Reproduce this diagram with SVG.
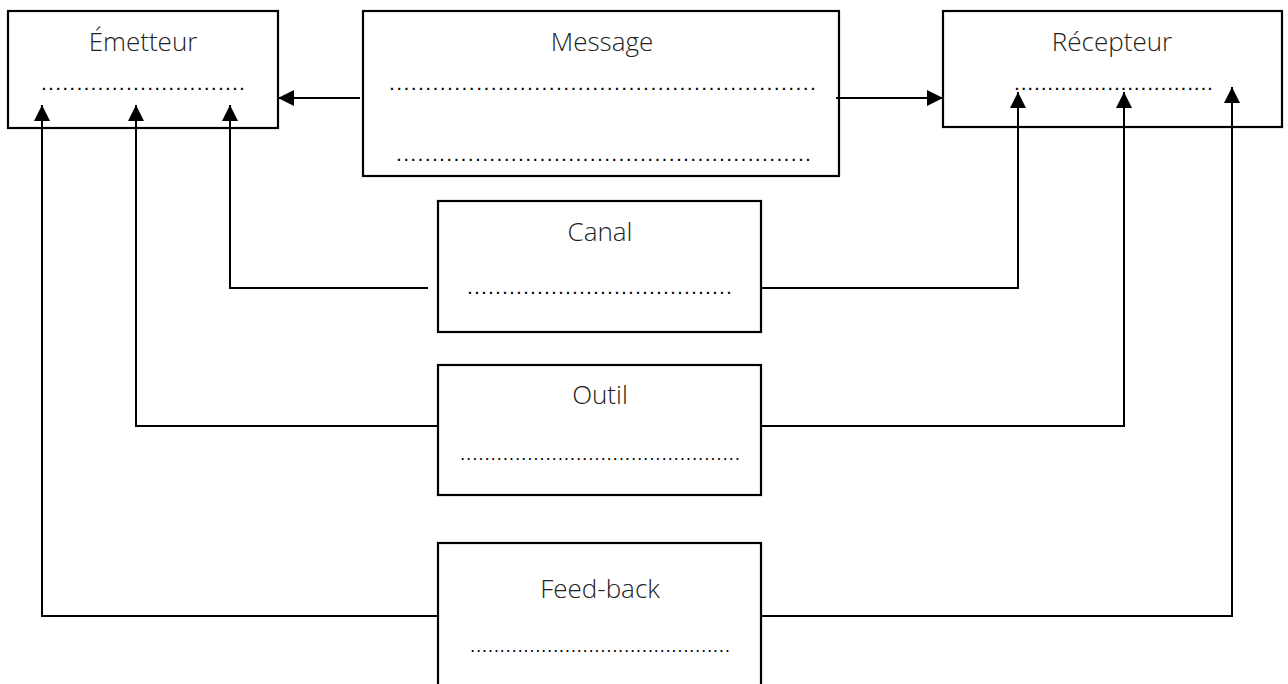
<svg xmlns="http://www.w3.org/2000/svg" width="1288" height="684" viewBox="0 0 1288 684">
<defs>
<marker id="ah" markerUnits="userSpaceOnUse" markerWidth="16" markerHeight="16" refX="16" refY="8" orient="auto" viewBox="0 0 16 16">
<path d="M0,0 L16,8 L0,16 z" fill="#000"/>
</marker>
</defs>
<style>
.box{fill:#fff;stroke:#000;stroke-width:2.2}
.lbl{font-family:"Open Sans","Liberation Sans",sans-serif;font-weight:300;font-size:26px;fill:#222;text-anchor:middle}
.dots{font-family:"Liberation Sans",sans-serif;font-size:14px;font-weight:bold;fill:#000}
.sm{font-size:12px}
.con{fill:none;stroke:#000;stroke-width:2;marker-end:url(#ah)}
</style>
<rect width="1288" height="684" fill="#fff"/>
<g id="emetteur">
<rect class="box" x="8" y="11" width="270" height="117"/>
<text class="lbl" x="143" y="51">Émetteur</text>
<text class="dots" x="42" y="90" textLength="202" lengthAdjust="spacing">.............................</text>
</g>
<g id="message">
<rect class="box" x="363" y="11" width="476" height="165"/>
<text class="lbl" x="602" y="51">Message</text>
<text class="dots" x="390" y="90" textLength="425" lengthAdjust="spacing">...........................................................</text>
<text class="dots" x="397" y="161" textLength="413" lengthAdjust="spacing">..........................................................</text>
</g>
<g id="recepteur">
<rect class="box" x="943" y="11" width="339" height="116"/>
<text class="lbl" x="1112" y="51">Récepteur</text>
<text class="dots" x="1015" y="90" textLength="197" lengthAdjust="spacing">..............................</text>
</g>
<g id="canal">
<rect class="box" x="438" y="201" width="323" height="131"/>
<text class="lbl" x="600" y="241">Canal</text>
<text class="dots" x="468" y="294" textLength="263" lengthAdjust="spacing">......................................</text>
</g>
<g id="outil">
<rect class="box" x="438" y="365" width="323" height="130"/>
<text class="lbl" x="600" y="404">Outil</text>
<text class="dots sm" x="461" y="460" textLength="278" lengthAdjust="spacing">..............................................</text>
</g>
<g id="feedback">
<rect class="box" x="438" y="543" width="323" height="170"/>
<text class="lbl" x="600" y="598">Feed-back</text>
<text class="dots sm" x="471" y="652" textLength="258" lengthAdjust="spacing">............................................</text>
</g>
<g id="connectors">
<path class="con" d="M360,98 L278,98"/>
<path class="con" d="M836,98 L943,98"/>
<path class="con" d="M428,288 L230,288 L230,105"/>
<path class="con" d="M761,288 L1018,288 L1018,92"/>
<path class="con" d="M438,426 L136,426 L136,105"/>
<path class="con" d="M761,426 L1124,426 L1124,92"/>
<path class="con" d="M438,616 L42,616 L42,105"/>
<path class="con" d="M761,616 L1232,616 L1232,87"/>
</g>
</svg>
